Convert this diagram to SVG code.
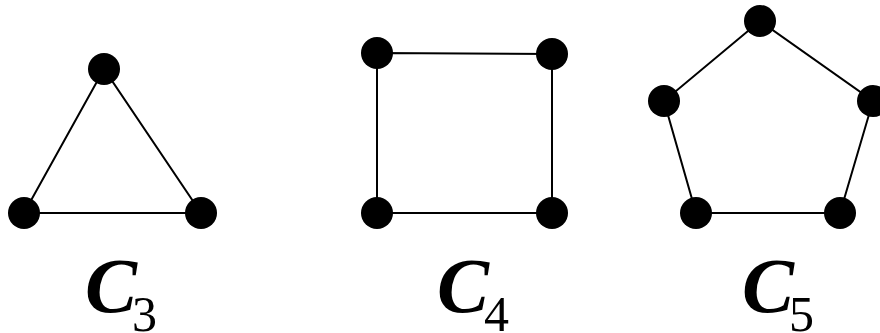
<svg xmlns="http://www.w3.org/2000/svg" width="880" height="333" viewBox="0 0 880 333">
<style>
.e{stroke:#000;stroke-width:2;fill:none}
.n{fill:#000}
.c{font-family:"Liberation Serif",serif;font-style:italic;font-weight:bold;font-size:78px}
.s{font-family:"Liberation Serif",serif;font-size:50px}
</style>
<rect width="880" height="333" fill="#fff"/>
<g id="connectors">
<path class="e" d="M104,69 L24,213 L201,213 Z"/>
<path class="e" d="M377,53 L552,54 L552,213 L377,213 Z"/>
<path class="e" d="M760,21 L873,101 L840,213 L696,213 L664,101 Z"/>
</g>
<g id="c3">
<circle class="n" cx="104" cy="69" r="16"/>
<circle class="n" cx="24" cy="213" r="16"/>
<circle class="n" cx="201" cy="213" r="16"/>
<text x="85" y="312"><tspan class="c">C</tspan><tspan class="s" dx="-5" dy="19">3</tspan></text>
</g>
<g id="c4">
<circle class="n" cx="377" cy="53" r="16"/>
<circle class="n" cx="552" cy="54" r="16"/>
<circle class="n" cx="377" cy="213" r="16"/>
<circle class="n" cx="552" cy="213" r="16"/>
<text x="437" y="312"><tspan class="c">C</tspan><tspan class="s" dx="-5" dy="19">4</tspan></text>
</g>
<g id="c5">
<circle class="n" cx="760" cy="21" r="16"/>
<circle class="n" cx="664" cy="101" r="16"/>
<circle class="n" cx="873" cy="101" r="16"/>
<circle class="n" cx="696" cy="213" r="16"/>
<circle class="n" cx="840" cy="213" r="16"/>
<text x="742" y="312"><tspan class="c">C</tspan><tspan class="s" dx="-5" dy="19">5</tspan></text>
</g>
</svg>
